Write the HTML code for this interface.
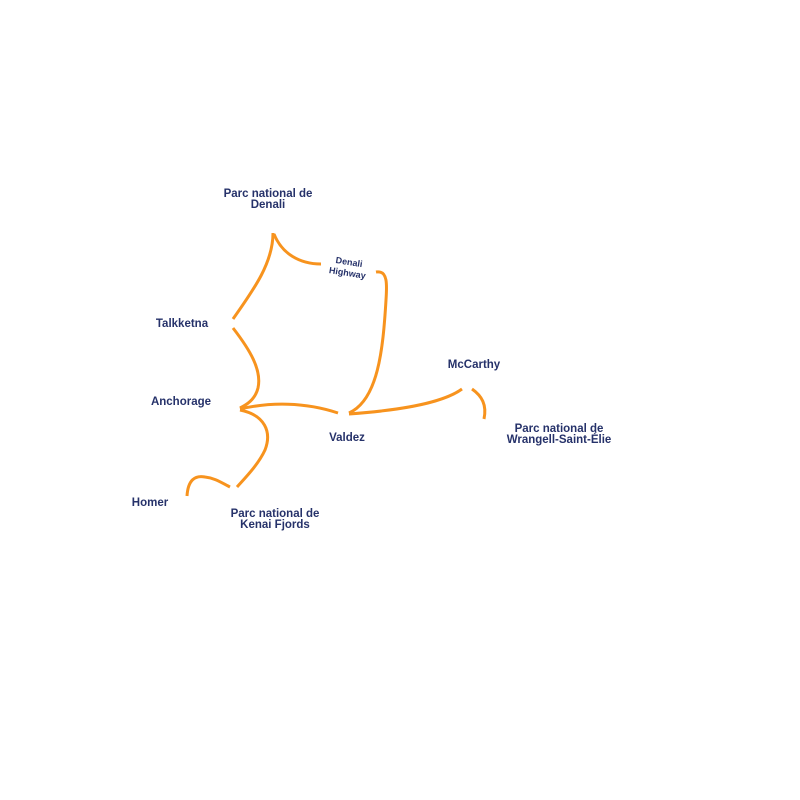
<!DOCTYPE html>
<html><head><meta charset="utf-8"><style>
html,body{margin:0;padding:0;background:#fff;}
svg{display:block;}
text{font-family:"Liberation Sans",sans-serif;font-weight:bold;fill:#26326a;font-size:11.5px;text-anchor:middle;}
</style></head><body>
<svg width="800" height="800" viewBox="0 0 800 800" xmlns="http://www.w3.org/2000/svg">
<g fill="none" stroke="#f7931e" stroke-width="3" stroke-linecap="butt">
<path d="M233,319 C255,288 273,262 273,233"/>
<path d="M274,234 C282,254 300,264 321,264"/>
<path d="M376,272 C388,270 387,285 386,300 C383,350 378,400 349,413"/>
<path d="M233,328 C250,350 262,370 258,388 C255,400 246,405 240,408"/>
<path d="M240,409 C270,402 305,402 338,413"/>
<path d="M240,410 C265,415 272,432 265,450 C258,465 245,478 237,487"/>
<path d="M187,496 C188,480 195,475 205,477 C215,478 222,483 230,487"/>
<path d="M349,414 C390,411 440,405 462,389"/>
<path d="M472,389 C482,396 487,405 484,419"/>
</g>
<text x="268" y="197">Parc national de</text>
<text x="268" y="208">Denali</text>
<g transform="rotate(9 348 269)">
<text x="348" y="265" style="font-size:9px;">Denali</text>
<text x="348" y="276" style="font-size:9px;">Highway</text>
</g>
<text x="182" y="327">Talkketna</text>
<text x="181" y="405">Anchorage</text>
<text x="347" y="441">Valdez</text>
<text x="150" y="506">Homer</text>
<text x="275" y="517">Parc national de</text>
<text x="275" y="528">Kenai Fjords</text>
<text x="474" y="368">McCarthy</text>
<text x="559" y="432">Parc national de</text>
<text x="559" y="443">Wrangell-Saint-Élie</text>
</svg>
</body></html>
